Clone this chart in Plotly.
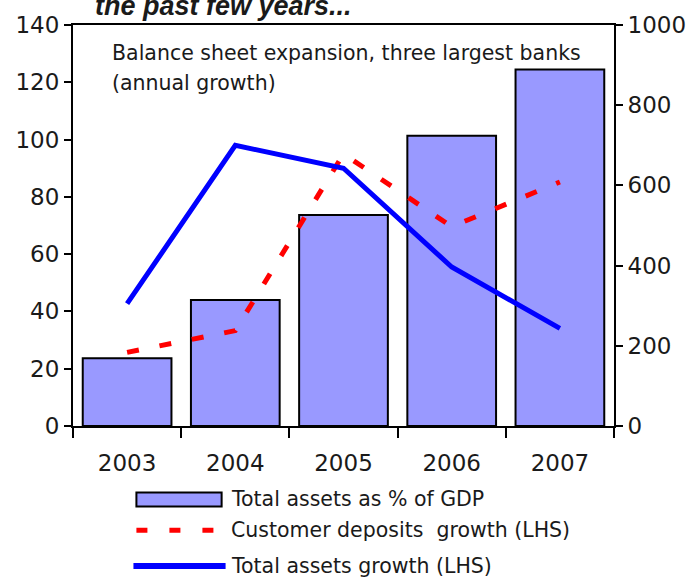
import plotly.graph_objects as go

years = ["2003", "2004", "2005", "2006", "2007"]
assets_pct_gdp = [169, 314, 526, 724, 889]          # RHS
deposits_growth = [25.7, 33.3, 95, 69.6, 85.2]       # LHS
assets_growth = [42.7, 98, 90, 55.5, 34.1]           # LHS
left_ticks = [0, 20, 40, 60, 80, 100, 120, 140]
right_ticks = [0, 200, 400, 600, 800, 1000]
legend_labels = ["Total assets as % of GDP",
                 "Customer deposits  growth (LHS)",
                 "Total assets growth (LHS)"]

W, H = 698, 582
L, R, T, B = 73, 619, 22, 426


def px(x):
    return (x - L) / (R - L)


def py(y):
    return (B - y) / (B - T)


FONT = "DejaVu Sans, Verdana, sans-serif"
TFONT = "Liberation Sans, Arial, sans-serif"
TXT = "#1a1a1a"
BAR = "#9999FF"

fig = go.Figure()
fig.add_bar(x=years, y=assets_pct_gdp, yaxis="y", name=legend_labels[0],
            marker=dict(color=BAR, line=dict(color="black", width=2)))
fig.add_scatter(x=years, y=deposits_growth, yaxis="y2", mode="lines",
                name=legend_labels[1],
                line=dict(color="#FF0000", width=5, dash="12px,21px"))
fig.add_scatter(x=years, y=assets_growth, yaxis="y2", mode="lines",
                name=legend_labels[2],
                line=dict(color="#0000FF", width=5))

axis_common = dict(showline=True, linecolor="black", linewidth=2,
                   ticks="outside", tickcolor="black", tickwidth=1.5,
                   showgrid=False, zeroline=False,
                   tickfont=dict(family=FONT, size=23, color=TXT))

fig.update_layout(
    width=W, height=H, autosize=False,
    margin=dict(l=L, r=W - R, t=T, b=H - B, pad=0),
    paper_bgcolor="white", plot_bgcolor="white",
    showlegend=False, bargap=0.18,
    xaxis=dict(type="category", mirror=True, tickson="boundaries",
               ticklen=10, ticklabelstandoff=15, **axis_common),
    yaxis=dict(side="right", range=[0, 1000], tickvals=right_ticks,
               ticklen=7, **axis_common),
    yaxis2=dict(side="left", overlaying="y", range=[0, 140],
                tickvals=left_ticks, ticklen=7, **axis_common),
)

# cropped heading at very top (cut off in the reference as well)
fig.add_annotation(xref="paper", yref="paper", x=px(93), y=py(3),
                   xanchor="left", yanchor="middle", showarrow=False,
                   text="<b><i>the past few years...</i></b>",
                   font=dict(family=TFONT, size=27, color=TXT))

# inner chart caption
fig.add_annotation(xref="paper", yref="paper", x=px(110), y=py(50),
                   xanchor="left", yanchor="middle", showarrow=False,
                   align="left",
                   text="Balance sheet expansion, three largest banks",
                   font=dict(family=FONT, size=20.5, color=TXT))
fig.add_annotation(xref="paper", yref="paper", x=px(110), y=py(80),
                   xanchor="left", yanchor="middle", showarrow=False,
                   text="(annual growth)",
                   font=dict(family=FONT, size=20.5, color=TXT))

# legend drawn below the plot
fig.add_shape(type="rect", xref="paper", yref="paper",
              x0=px(137), x1=px(223), y0=py(507), y1=py(493),
              fillcolor=BAR, line=dict(color="black", width=2))
fig.add_shape(type="line", xref="paper", yref="paper",
              x0=px(137), x1=px(215), y0=py(531), y1=py(531),
              line=dict(color="#FF0000", width=5, dash="11px,22px"))
fig.add_shape(type="line", xref="paper", yref="paper",
              x0=px(134), x1=px(227), y0=py(567), y1=py(567),
              line=dict(color="#0000FF", width=6))
for lbl, yy in zip(legend_labels, [500, 531, 567]):
    fig.add_annotation(xref="paper", yref="paper", x=px(230), y=py(yy),
                       xanchor="left", yanchor="middle", showarrow=False,
                       text=lbl, font=dict(family=FONT, size=20.5, color=TXT))

fig.write_html("out.html",
               config={"displayModeBar": False},
               post_script="document.body.style.margin='0';"
                           "document.body.style.padding='0';")
